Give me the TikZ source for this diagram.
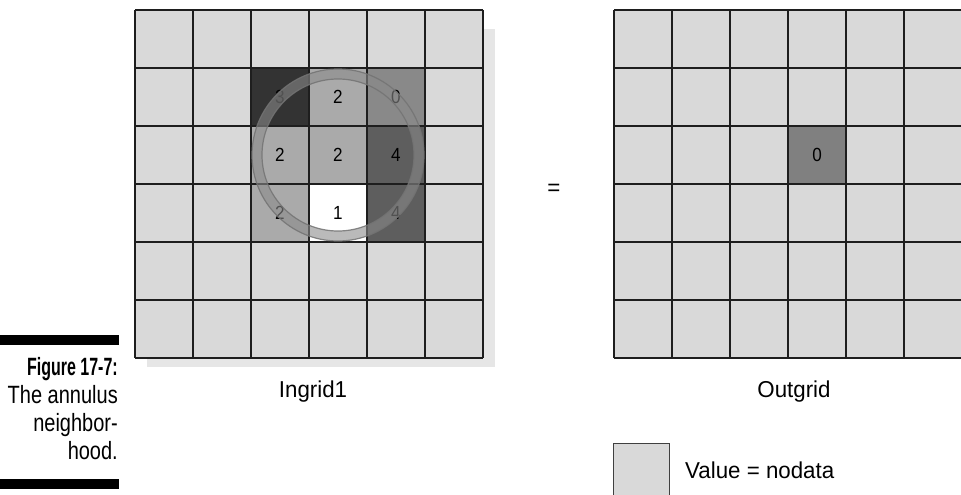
\documentclass[tikz,border=0pt]{standalone}
\usepackage{fontspec}
\setmainfont{Liberation Sans}
\newfontfamily\capfont{Liberation Sans}[FakeStretch=0.8]
\newfontfamily\capboldfont{Liberation Sans Bold}[FakeStretch=0.64]
\newfontfamily\lblfont{Liberation Sans}[FakeStretch=0.97]
\newfontfamily\digfont{Liberation Sans}[FakeStretch=0.9]
\definecolor{cellgray}{HTML}{D9D9D9}
\definecolor{shadowgray}{HTML}{E6E6E6}
\definecolor{gridline}{HTML}{1E1E1E}
\definecolor{gA}{HTML}{333333}
\definecolor{gB}{HTML}{AAAAAA}
\definecolor{gC}{HTML}{898989}
\definecolor{gD}{HTML}{5E5E5E}
\definecolor{gE}{HTML}{808080}
\tikzset{
  gridlines/.style={draw=gridline, line width=1.4pt},
  digit/.style={font=\digfont\fontsize{19}{22}\selectfont, text=black, inner sep=0pt},
  lbl/.style={font=\lblfont\fontsize{23}{26}\selectfont, inner sep=0pt},
  captext/.style={font=\capfont\fontsize{25}{28}\selectfont, inner sep=0pt, anchor=base east},
}
\begin{document}
\begin{tikzpicture}[x=1pt,y=-1pt]
\useasboundingbox (0,0) rectangle (961,495);
\fill[white] (0,0) rectangle (961,495);
% shadow of left grid
\fill[shadowgray] (147,29) rectangle (495,367);
% left grid
\fill[cellgray] (135,10) rectangle (483,358);
\fill[gA] (251,68) rectangle (309,126);
\fill[gB] (309,68) rectangle (367,126);
\fill[gC] (367,68) rectangle (425,126);
\fill[gB] (251,126) rectangle (309,184);
\fill[gB] (309,126) rectangle (367,184);
\fill[gD] (367,126) rectangle (425,184);
\fill[gB] (251,184) rectangle (309,242);
\fill[white] (309,184) rectangle (367,242);
\fill[gD] (367,184) rectangle (425,242);
\foreach \i in {0,...,6} {
  \draw[gridlines] (135+58*\i,10) -- (135+58*\i,358);
  \draw[gridlines] (135,10+58*\i) -- (483,10+58*\i);
}
% digits
\node[digit] (l11) at (280,97) {3};
\node[digit] (l12) at (338,97) {2};
\node[digit] (l13) at (396,97) {0};
\node[digit] (l21) at (280,155) {2};
\node[digit] (l22) at (338,155) {2};
\node[digit] (l23) at (396,155) {4};
\node[digit] (l31) at (280,213) {2};
\node[digit] (l32) at (338,213) {1};
\node[digit] (l33) at (396,213) {4};
% annulus
\fill[fill=black!46, fill opacity=0.59, even odd rule] (338,155) circle[radius=86] (338,155) circle[radius=76];
\draw[black!55, line width=1.2pt, opacity=0.85] (338,155) circle[radius=86];
\draw[black!55, line width=1.2pt, opacity=0.85] (338,155) circle[radius=76];
% right grid
\fill[cellgray] (614,10) rectangle (962,358);
\fill[gE] (788,126) rectangle (846,184);
\foreach \i in {0,...,6} {
  \draw[gridlines] (614+58*\i,10) -- (614+58*\i,358);
  \draw[gridlines] (614,10+58*\i) -- (962,10+58*\i);
}
\node[digit] (r22) at (817,155) {0};
% labels
\node[lbl] (eq) at (554,190) {=};
\node[lbl] (in1) at (313,392) {Ingrid1};
\node[lbl] (out) at (794,392) {Outgrid};
% legend
\draw[fill=cellgray, draw=black!75, line width=1pt] (613,443) rectangle (669,500);
\node[lbl, anchor=west] (leg) at (685,470) {Value = nodata};
% caption
\fill[black] (0,335) rectangle (119,345);
\fill[black] (0,479) rectangle (119,489);
\node[captext, font=\capboldfont\fontsize{25}{28}\selectfont] (c1) at (118,375) {Figure 17-7:};
\node[captext] (c2) at (118,403) {The annulus};
\node[captext] (c3) at (118,431) {neighbor-};
\node[captext] (c4) at (118,459) {hood.};
\end{tikzpicture}
\end{document}
